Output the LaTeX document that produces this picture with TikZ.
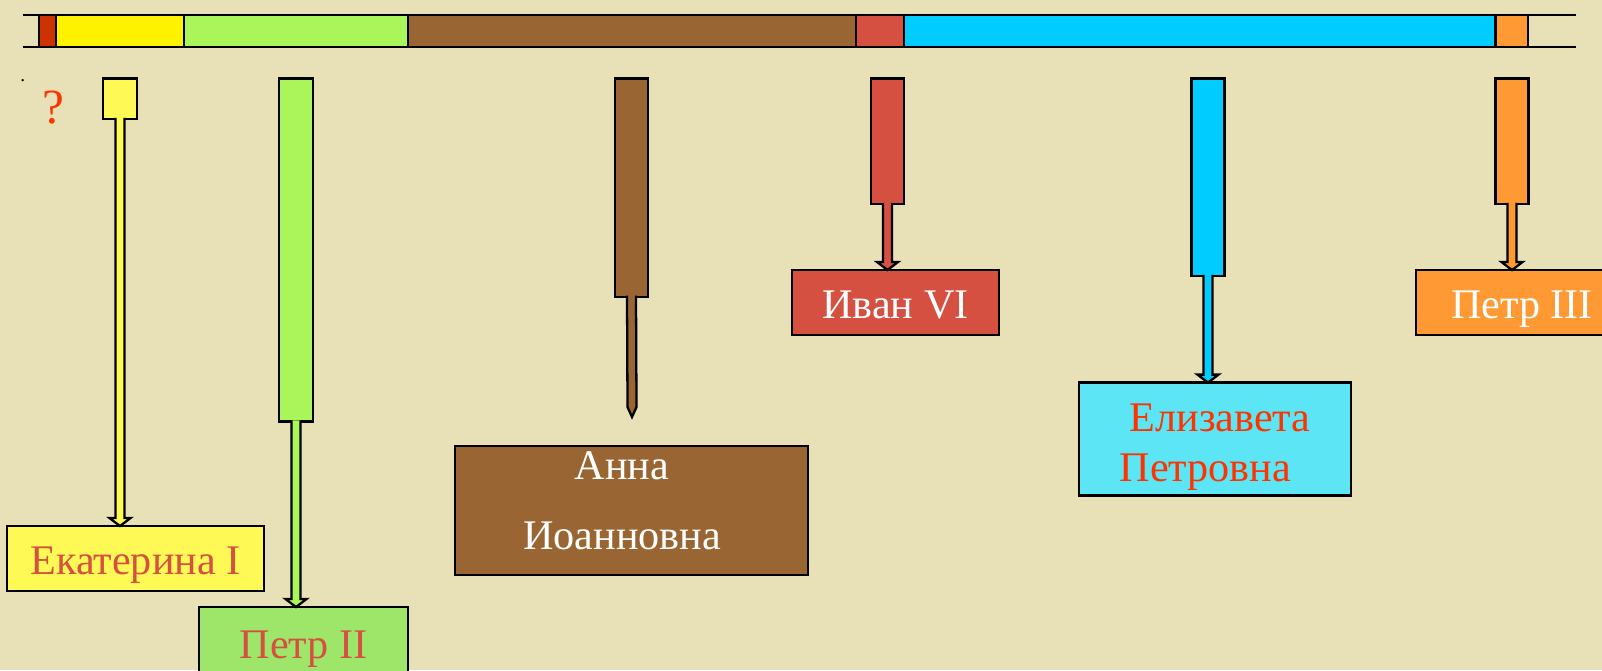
\documentclass[tikz,border=0pt]{standalone}
\usepackage{fontspec}
\setmainfont{Liberation Serif}
\usetikzlibrary{calc}

\definecolor{bgbeige}{HTML}{E8E1B8}
\definecolor{rustred}{HTML}{CC3300}
\definecolor{barlime}{HTML}{AAF55A}
\definecolor{boxlime}{HTML}{9DE66A}
\definecolor{lemon}{HTML}{FFF955}
\definecolor{annabrown}{HTML}{996633}
\definecolor{brick}{HTML}{D55041}
\definecolor{skyblue}{HTML}{00CCFF}
\definecolor{paleblue}{HTML}{5CE6F5}
\definecolor{amber}{HTML}{FF9933}
\definecolor{namered}{HTML}{D5503F}
\definecolor{qred}{HTML}{FF3300}

% shaft with head from a stub down to the top of a box
\newcommand{\reignarrow}[3]{%
  \coordinate (#1tip) at (#1.south |- #2.north);
  \draw[shaft, fill=#3] ($(#1.south)+(-4.5,-1)$) -- ($(#1tip)+(-4.5,-8)$) -- ++(-6,0)
    -- (#1tip) -- ++(10.5,-8) -- ++(-6,0) -- ($(#1.south)+(4.5,-1)$);
}

\begin{document}
\begin{tikzpicture}[x=0.02cm, y=-0.02cm,
  bar/.style={draw=black, line width=1.3pt},
  stub/.style={draw=black, line width=1.3pt, anchor=north, inner sep=0pt, outer sep=0pt},
  shaft/.style={draw=black, line width=1.3pt, line join=miter},
  reign/.style={draw=black, line width=1.3pt, inner sep=0pt, outer sep=0pt,
    font=\fontsize{24}{28}\selectfont, text height=18.5pt, text depth=0pt}]

	% Background
	\path[use as bounding box, fill=bgbeige] (0,0) rectangle (1602,670);

	% Time bar
	\draw[bar] (22.7,14.7) -- (1576,14.7);
	\draw[bar] (22.7,46.7) -- (1576,46.7);
	\draw[bar, fill=rustred] (39.3,14.7) rectangle (55.7,46.7);
	\draw[bar, fill=yellow] (55.7,14.7) rectangle (184,46.7);
	\draw[bar, fill=barlime] (184,14.7) rectangle (408,46.7);
	\draw[bar, fill=annabrown] (408,14.7) rectangle (856,46.7);
	\draw[bar, fill=brick] (856,14.7) rectangle (904,46.7);
	\draw[bar, fill=skyblue] (904,14.7) rectangle (1495.6,46.7);
	\draw[bar, fill=amber] (1495.6,14.7) rectangle (1528,46.7);

	% Small marks on the left
	\node[anchor=base, inner sep=0pt, font=\fontsize{11}{11}\selectfont] (dot) at (22.7,81) {.};
	\node[anchor=base, inner sep=0pt, text=qred, font=\fontsize{28}{28}\selectfont] (qmark) at (53,123) {?};

	% Stubs under the bar
	\node[stub, fill=lemon, minimum width=0.68cm, minimum height=0.81cm] (s1) at (120,78.5) {};
	\node[stub, fill=barlime, minimum width=0.68cm, minimum height=6.86cm] (s2) at (296,78.5) {};
	\node[stub, fill=annabrown, minimum width=0.66cm, minimum height=4.364cm] (s3) at (631.5,78.5) {};
	\node[stub, fill=brick, minimum width=0.66cm, minimum height=2.51cm] (s4) at (887.5,78.5) {};
	\node[stub, fill=skyblue, minimum width=0.66cm, minimum height=3.95cm] (s5) at (1208,78.5) {};
	\node[stub, fill=amber, minimum width=0.66cm, minimum height=2.51cm] (s6) at (1512,78.5) {};

	% Name boxes
	\node[reign, fill=lemon, text=namered, minimum width=5.14cm, minimum height=1.3cm] (ekat) at (135.5,558.5) {Екатерина I};
	\node[reign, fill=boxlime, text=namered, minimum width=4.18cm, minimum height=1.4cm] (petr2) at (303.5,642) {Петр II};
	\node[reign, fill=annabrown, text=white, minimum width=7.06cm, minimum height=2.586cm, align=center,
	  font=\fontsize{24}{39.7}\selectfont, text height=, text depth=11.3pt] (anna) at (631.5,510.4) {Анна\hspace*{10.8pt}\\Иоанновна\hspace*{10.8pt}};
	\node[reign, fill=brick, text=white, minimum width=4.14cm, minimum height=1.3cm] (ivan) at (895.5,302.5) {Иван VI};
	\node[reign, fill=paleblue, text=qred, minimum width=5.44cm, minimum height=2.256cm, align=left,
	  font=\fontsize{24}{28.3}\selectfont, text height=48.4pt, text depth=0pt] (eliz) at (1215,439) {\hspace*{5.7pt}Елизавета\\Петровна};
	\node[reign, fill=amber, text=white, minimum width=4.24cm, minimum height=1.3cm] (petr3) at (1522,302.5) {Петр III};

	% Arrows
	\reignarrow{s1}{ekat}{lemon}
	\reignarrow{s2}{petr2}{barlime}
	\coordinate (annatip) at (632,417);
	\draw[shaft, fill=annabrown] ($(s3.south)+(-4.5,-1)$) -- ($(annatip)+(-4.5,-10)$) -- (annatip)
	  -- ($(annatip)+(4.5,-10)$) -- ($(s3.south)+(4.5,-1)$);
	\reignarrow{s4}{ivan}{brick}
	\reignarrow{s5}{eliz}{skyblue}
	\reignarrow{s6}{petr3}{amber}

\end{tikzpicture}
\end{document}
